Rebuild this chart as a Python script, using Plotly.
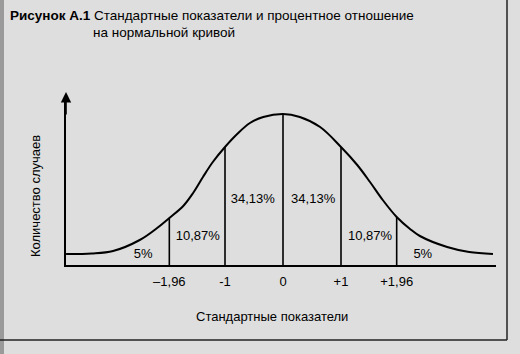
import plotly.graph_objects as go

# ---- data ----
curve_z = [-3.74, -3.30, -2.93, -2.47, -2.17, -1.96, -1.72, -1.55, -1.38, -1.21, -1.00,
           -0.79, -0.57, -0.34, 0.00, 0.29, 0.64, 1.00, 1.28, 1.50, 1.72, 1.96,
           2.19, 2.36, 2.83, 3.21, 3.62]
curve_h = [11, 11.5, 14, 25, 37, 47, 59, 72, 88, 103, 118,
           131, 142, 148, 151, 148, 138, 118, 100, 83, 65, 48,
           36, 29, 18, 13, 11]

vline_z = [-1.96, -1, 0, 1, 1.96]
vline_h = [47, 118, 151, 118, 48]

pct_labels = ["5%", "10,87%", "34,13%", "34,13%", "10,87%", "5%"]
pct_z = [-2.41, -1.47, -0.52, 0.52, 1.50, 2.41]
pct_h = [10, 28, 65, 65, 28, 10]

tick_vals = [-1.96, -1, 0, 1, 1.96]
tick_text = ["\u20131,96", "-1", "0", "+1", "+1,96"]

title_bold = "Рисунок А.1"
title_line1 = "Стандартные показатели и процентное отношение"
title_line2 = "на нормальной кривой"
x_title = "Стандартные показатели"
y_title = "Количество случаев"

# ---- layout geometry (pixels) ----
W, H = 520, 354
L, R, T, B = 66, 496, 100, 265
def px(xp):
    return (xp - L) / (R - L)
def py(yp):
    return (B - yp) / (B - T)

FONT = "Liberation Sans, Arial, Helvetica, sans-serif"
BG = "#dedede"

fig = go.Figure()

fig.add_trace(go.Scatter(x=curve_z, y=curve_h, mode="lines",
                         line=dict(color="black", width=2, shape="spline", smoothing=1.0),
                         cliponaxis=False, hoverinfo="skip", showlegend=False))

vx, vy = [], []
for z, h in zip(vline_z, vline_h):
    vx += [z, z, None]
    vy += [0, h, None]
fig.add_trace(go.Scatter(x=vx, y=vy, mode="lines",
                         line=dict(color="black", width=1.6),
                         cliponaxis=False, hoverinfo="skip", showlegend=False))

fig.add_trace(go.Scatter(x=pct_z, y=pct_h, mode="text", text=pct_labels,
                         textfont=dict(family=FONT, size=13, color="#000"),
                         cliponaxis=False, hoverinfo="skip", showlegend=False))

annotations = [
    dict(x=px(8), y=py(15), xref="paper", yref="paper", xanchor="left", yanchor="middle",
         text=f"<b>{title_bold}</b> {title_line1}", showarrow=False,
         font=dict(family=FONT, size=13.5, color="#000")),
    dict(x=px(91), y=py(32), xref="paper", yref="paper", xanchor="left", yanchor="middle",
         text=title_line2, showarrow=False,
         font=dict(family=FONT, size=13.5, color="#000")),
    dict(x=px(272), y=py(316), xref="paper", yref="paper", xanchor="center", yanchor="middle",
         text=x_title, showarrow=False, font=dict(family=FONT, size=13, color="#000")),
    dict(x=px(35), y=py(196), xref="paper", yref="paper", xanchor="center", yanchor="middle",
         text=y_title, textangle=-90, showarrow=False, font=dict(family=FONT, size=13, color="#000")),
    # y axis arrow
    dict(x=px(L), y=py(92), xref="paper", yref="paper", ax=0, ay=24, axref="pixel", ayref="pixel",
         showarrow=True, arrowhead=2, arrowsize=1.3, arrowwidth=1.6, arrowcolor="black", text="",
         standoff=0, startstandoff=0),
]

shapes = [
    dict(type="line", xref="paper", yref="paper", x0=px(507), x1=px(507), y0=py(-5), y1=py(340),
         line=dict(color="#222", width=1.5)),
    dict(type="line", xref="paper", yref="paper", x0=px(-5), x1=px(507), y0=py(340), y1=py(340),
         line=dict(color="#222", width=1.5)),
    dict(type="rect", xref="paper", yref="paper", x0=px(-2), x1=px(4), y0=py(-5), y1=py(360),
         line=dict(width=0), fillcolor="#9a9a9a", layer="below"),
]

fig.update_layout(
    width=W, height=H,
    margin=dict(l=L, r=W - R, t=T, b=H - B, pad=0),
    paper_bgcolor=BG, plot_bgcolor=BG,
    showlegend=False,
    annotations=annotations, shapes=shapes,
    xaxis=dict(range=[(L - 283) / 58, (R - 283) / 58], showgrid=False, zeroline=False,
               showline=True, linecolor="black", linewidth=2,
               tickmode="array", tickvals=tick_vals, ticktext=tick_text, ticks="",
               ticklabelstandoff=3,
               tickfont=dict(family=FONT, size=13, color="#000"), fixedrange=True),
    yaxis=dict(range=[0, B - T], showgrid=False, zeroline=False,
               showline=True, linecolor="black", linewidth=2,
               showticklabels=False, ticks="", fixedrange=True),
)

fig.write_html("out.html")
